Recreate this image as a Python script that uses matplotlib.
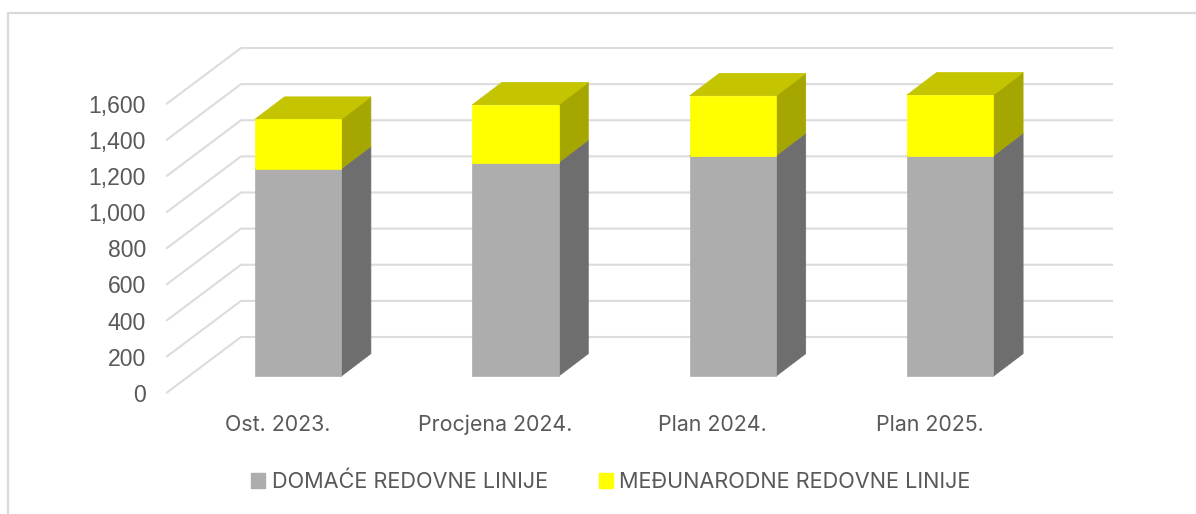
import matplotlib
matplotlib.use('Agg')
import matplotlib.pyplot as plt
from matplotlib.patches import Polygon, Patch
import numpy as np

W, H = 1196, 514

categories = ['Ost. 2023.', 'Procjena 2024.', 'Plan 2024.', 'Plan 2025.']
domace = [1148, 1183, 1221, 1221]
medunarodne = [274, 319, 331, 336]
y_ticks = [0, 200, 400, 600, 800, 1000, 1200, 1400, 1600]

series_names = ['DOMAĆE REDOVNE LINIJE', 'MEĐUNARODNE REDOVNE LINIJE']

# pixel layout of the fake 3d chart
PX_PER_CAT = 217.4
PX_PER_UNIT = 36.125 / 200
X0 = 298.0       # centre of first bar
Y0 = 376.2       # pixel row of value 0 at the bar base
BAR_W = 86.4 / PX_PER_CAT
DX = 29.7 / PX_PER_CAT
DY = 22.5 / PX_PER_UNIT

GRID_FRONT_X = (167 - X0) / PX_PER_CAT
GRID_BACK_X = (241 - X0) / PX_PER_CAT
GRID_RIGHT_X = (1112 - X0) / PX_PER_CAT
GRID_FRONT_Y = -16.3 / PX_PER_UNIT
GRID_BACK_Y = 39.2 / PX_PER_UNIT

plt.rcParams['font.family'] = ['Inter', 'DejaVu Sans']
TEXT = '#595959'

fig = plt.figure(figsize=(W / 100, H / 100), dpi=100)
ax = fig.add_axes([0, 0, 1, 1])
ax.set_xlim(-X0 / PX_PER_CAT, (W - X0) / PX_PER_CAT)
ax.set_ylim((Y0 - H) / PX_PER_UNIT, Y0 / PX_PER_UNIT)
ax.axis('off')

# outer chart border, only left and top show in the crop
ax.plot([8 / W, 8 / W, 1], [0, 1 - 12.5 / H, 1 - 12.5 / H], transform=ax.transAxes,
        color='#d9d9d9', lw=1.6, clip_on=False, zorder=1)

for v in y_ticks:
    ax.plot([GRID_FRONT_X, GRID_BACK_X, GRID_RIGHT_X],
            [v + GRID_FRONT_Y, v + GRID_BACK_Y, v + GRID_BACK_Y],
            color='#dcdcdc', lw=1.5, zorder=1, solid_joinstyle='miter')
    ax.text((146 - X0) / PX_PER_CAT, v + GRID_FRONT_Y - 9.3 / PX_PER_UNIT, f'{v:,}', ha='right', va='baseline',
            fontsize=16.6, color=TEXT, family=['Liberation Sans', 'DejaVu Sans'])


def box(x, lo, hi, front, side, top, z):
    l, r = x - BAR_W / 2, x + BAR_W / 2
    ax.add_patch(Polygon([(r, lo), (r + DX, lo + DY), (r + DX, hi + DY), (r, hi)],
                         facecolor=side, edgecolor=side, lw=0.5, zorder=z))
    ax.add_patch(Polygon([(l, hi), (r, hi), (r + DX, hi + DY), (l + DX, hi + DY)],
                         facecolor=top, edgecolor=top, lw=0.5, zorder=z))
    ax.add_patch(Polygon([(l, lo), (r, lo), (r, hi), (l, hi)],
                         facecolor=front, edgecolor=front, lw=0.5, zorder=z + 0.1))


x = np.arange(len(categories))
for i in x:
    box(i, 0, domace[i], '#adadad', '#6e6e6e', '#8a8a8a', 2)
    box(i, domace[i], domace[i] + medunarodne[i], '#ffff00', '#a6a600', '#c4c400', 3)
    ax.text(i - 20.5 / PX_PER_CAT, (Y0 - 430.7) / PX_PER_UNIT, categories[i], ha='center', va='baseline',
            fontsize=15.4, color=TEXT)

handles = [Patch(color='#adadad'), Patch(color='#ffff00')]
leg = ax.legend(handles, series_names, ncols=2, loc='center', frameon=False,
                bbox_to_anchor=(611 / W, 1 - 482 / H), bbox_transform=ax.transAxes,
                fontsize=15.6, labelcolor=TEXT, handlelength=0.65, handleheight=0.65,
                handletextpad=0.3, columnspacing=2.35)

fig.savefig('out.png', dpi=100)
